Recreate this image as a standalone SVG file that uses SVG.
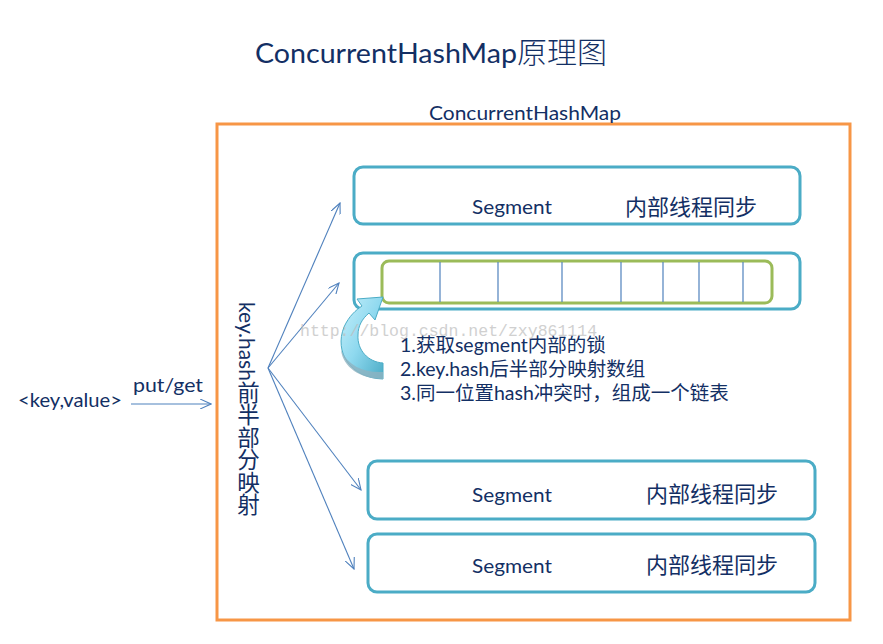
<svg xmlns="http://www.w3.org/2000/svg" width="883" height="644" viewBox="0 0 883 644">
<style>
.t{font-family:Lato,"Noto Sans CJK SC",sans-serif;fill:#132f64}
.seg{fill:#fff;stroke:#4bacc6;stroke-width:3}
.conn{stroke:#4f81bd;stroke-width:1.1;fill:none;marker-end:url(#ah)}
.div{stroke:#4f81bd;stroke-width:1.2}
</style>
<defs>
<marker id="ah" viewBox="0 0 12 10" refX="11" refY="5" markerWidth="12" markerHeight="10" markerUnits="userSpaceOnUse" orient="auto">
<path d="M0,0 L11,5 L0,10" fill="none" stroke="#4f81bd" stroke-width="1.1"/>
</marker>
<linearGradient id="cg" x1="0" y1="0" x2="1" y2="1">
<stop offset="0" stop-color="#c9f0fb"/>
<stop offset="0.5" stop-color="#8fd9ef"/>
<stop offset="1" stop-color="#4bacc6"/>
</linearGradient>
</defs>
<rect width="883" height="644" fill="#fff"/>
<text class="t" x="255" y="63" font-size="27"><tspan textLength="262" lengthAdjust="spacingAndGlyphs">ConcurrentHashMap</tspan><tspan font-size="30" font-weight="300">原理图</tspan></text>
<g id="container">
<rect x="217" y="124" width="633" height="496" fill="none" stroke="#f79646" stroke-width="3"/>
<text class="t" x="429" y="120" font-size="19" textLength="192" lengthAdjust="spacingAndGlyphs">ConcurrentHashMap</text>
</g>
<g id="input">
<text class="t" x="18" y="407" font-size="20" textLength="104" lengthAdjust="spacingAndGlyphs">&lt;key,value&gt;</text>
<text class="t" x="133" y="392" font-size="20" textLength="70" lengthAdjust="spacingAndGlyphs">put/get</text>
</g>
<g id="hash-label">
<text class="t" x="247" y="302" font-size="21" writing-mode="tb">key.hash<tspan font-size="22.5">前半部分映射</tspan></text>
</g>
<g id="segment1">
<rect class="seg" x="354" y="167" width="446" height="57" rx="9"/>
<text class="t" x="472" y="214" font-size="20" textLength="80" lengthAdjust="spacingAndGlyphs">Segment</text>
<text class="t" x="625" y="215" font-size="22">内部线程同步</text>
</g>
<g id="segment2">
<rect class="seg" x="354" y="253" width="446" height="56" rx="9"/>
<rect x="382" y="261" width="390" height="42" rx="7" fill="#fff" stroke="#9bbb59" stroke-width="3"/>
<line class="div" x1="440" y1="262" x2="440" y2="302"/>
<line class="div" x1="498" y1="262" x2="498" y2="302"/>
<line class="div" x1="562" y1="262" x2="562" y2="302"/>
<line class="div" x1="621" y1="262" x2="621" y2="302"/>
<line class="div" x1="663" y1="262" x2="663" y2="302"/>
<line class="div" x1="699" y1="262" x2="699" y2="302"/>
<line class="div" x1="743" y1="262" x2="743" y2="302"/>
</g>
<g id="segment3">
<rect class="seg" x="368" y="461" width="447" height="58" rx="9"/>
<text class="t" x="472" y="502" font-size="20" textLength="80" lengthAdjust="spacingAndGlyphs">Segment</text>
<text class="t" x="646" y="502" font-size="22">内部线程同步</text>
</g>
<g id="segment4">
<rect class="seg" x="368" y="534" width="447" height="58" rx="9"/>
<text class="t" x="472" y="573" font-size="20" textLength="80" lengthAdjust="spacingAndGlyphs">Segment</text>
<text class="t" x="646" y="573" font-size="22">内部线程同步</text>
</g>
<g id="curved-arrow">
<path d="M383,379 C350,378 334,352 344,327 C349,316 356,310 362,306 L357,299 L383,297 L375,320 L369,313 C362,319 358,326 358,335 C357,350 368,362 383,363 Z" fill="url(#cg)" stroke="#4bacc6" stroke-width="1"/>
<path d="M383,379 C360,379 343,367 341,350 C348,366 364,373 383,372 Z" fill="#8fb3c0" opacity="0.8"/>
</g>
<g id="steps">
<text class="t" x="400" y="352" font-size="19.5">1.获取segment内部的锁</text>
<text class="t" x="400" y="376" font-size="19.5">2.key.hash后半部分映射数组</text>
<text class="t" x="400" y="400" font-size="19.5">3.同一位置hash冲突时，组成一个链表</text>
</g>
<g id="connectors">
<line class="conn" x1="131" y1="404" x2="211" y2="404"/>
<line class="conn" x1="268" y1="368" x2="340" y2="203"/>
<line class="conn" x1="268" y1="368" x2="339" y2="283"/>
<line class="conn" x1="268" y1="368" x2="361" y2="490"/>
<line class="conn" x1="268" y1="368" x2="354" y2="569"/>
</g>
<text x="300" y="336" font-family="Liberation Mono,monospace" font-size="16.5" fill="#bdbdbd" opacity="0.7">http://blog.csdn.net/zxy861114</text>
</svg>
